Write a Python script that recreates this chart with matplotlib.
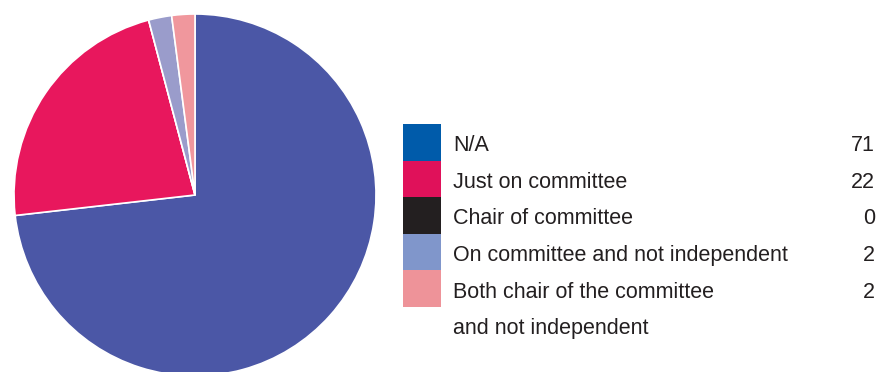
import matplotlib

matplotlib.use("Agg")
import matplotlib.pyplot as plt
from matplotlib.patches import Rectangle

# --- data ------------------------------------------------------------------
categories = [
    "N/A",
    "Just on committee",
    "Chair of committee",
    "On committee and not independent",
    "Both chair of the committee\nand not independent",
]
counts = [71, 22, 0, 2, 2]

# pie slices and legend swatches use slightly different tones in the original
pie_colors = ["#4B57A6", "#E8175D", "#231F20", "#9A9CCB", "#F0979D"]
legend_colors = ["#005BAA", "#E0115A", "#231F20", "#8096CB", "#EE9399"]

plt.rcParams["font.family"] = ["Liberation Sans", "DejaVu Sans"]

W, H = 893, 372
fig = plt.figure(figsize=(W / 100, H / 100), dpi=100)

# pie: centre (195, 195) px, radius ~181 px, slightly clipped at the bottom
cx, cy, r = 195, 195, 181
ax = fig.add_axes([(cx - r) / W, (H - cy - r) / H, 2 * r / W, 2 * r / H])
ax.pie(
    counts, colors=pie_colors, startangle=90, counterclock=False,
    wedgeprops=dict(edgecolor="white", linewidth=1.2), radius=1.0,
)
ax.set_xlim(-1, 1)
ax.set_ylim(-1, 1)
ax.set_aspect("equal")
ax.axis("off")

# legend drawn by hand: swatch column, label column, right-aligned counts
x_sw, sw_w = 403, 38
y_top, row_h = 124, 36.6
x_txt, x_num = 453, 875
for i, (lab, n, col) in enumerate(zip(categories, counts, legend_colors)):
    y0 = y_top + i * row_h
    fig.patches.append(Rectangle((x_sw / W, 1 - (y0 + row_h) / H), sw_w / W, row_h / H,
                                 transform=fig.transFigure, facecolor=col,
                                 edgecolor="none"))
    base = y0 + row_h / 2 + 9
    lines = lab.split("\n")
    for k, line in enumerate(lines):
        fig.text(x_txt / W, 1 - (base + k * row_h) / H, line, fontsize=15.5,
                 color="#231F20", ha="left", va="baseline")
    fig.text(x_num / W, 1 - base / H, str(n), fontsize=15.5, color="#231F20",
             ha="right", va="baseline")

fig.savefig("out.png", dpi=100)
